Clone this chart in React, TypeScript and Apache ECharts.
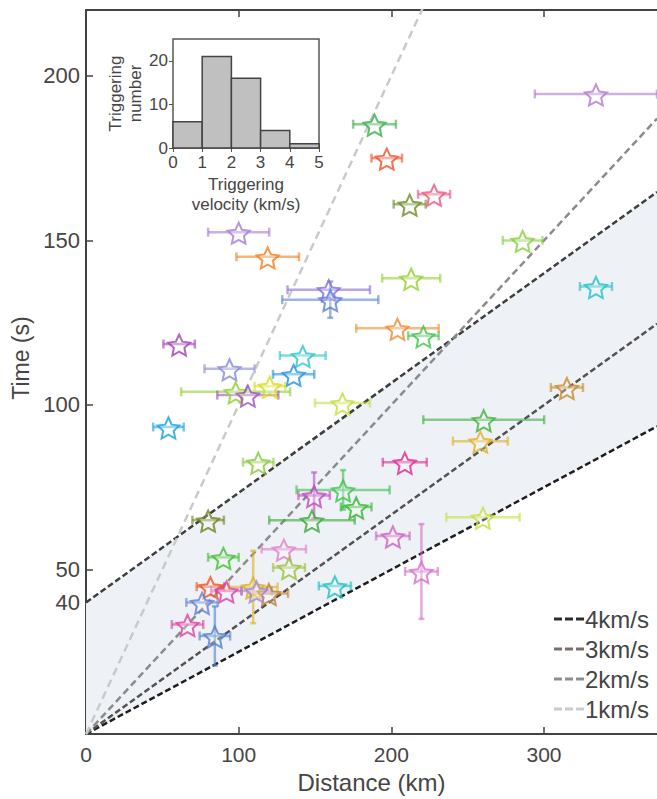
import React, { useEffect, useRef } from "react";
import * as echarts from "echarts";

// ---- main scatter data (distance km, time s, errors) ----
const distances = [334, 189, 197, 228, 212, 286, 213, 334, 100, 119, 159, 160, 204, 221, 61, 142, 94, 136, 120.4, 98, 106, 168, 54, 315, 260.5, 258.3, 208.8, 168.4, 177, 148, 149.4, 260, 201, 219.7, 163, 80, 112.8, 90, 129.6, 133, 81.5, 92, 109.5, 119.8, 111.7, 76, 66.5, 84.4];
const times = [194.5, 185.3, 175, 164, 161, 150, 138.5, 136, 152.5, 145, 135, 132, 123.3, 121, 118.5, 115, 111, 109.3, 105.7, 104, 103, 100.6, 93.3, 105.3, 95.5, 89, 82.6, 74.2, 69, 65, 72.5, 65.9, 60.2, 49.4, 45, 65, 82.6, 53.7, 56.2, 50.6, 44.8, 43.5, 44.7, 42.7, 43.5, 40, 33.3, 29.8];
const distErr = [40, 14, 10, 10.5, 10.5, 13, 19, 10.5, 20, 20.5, 27, 31.5, 27, 10, 10.3, 15, 16.4, 13.5, 10, 35.7, 20, 18, 10, 10.5, 39.6, 18, 14.4, 30.5, 10, 28, 10.3, 24, 11, 10.7, 10.5, 10.3, 10, 10, 14.5, 10.4, 9, 10, 16, 12.5, 10, 10.3, 10.3, 10];
const timeErr = [0, 0, 0, 0, 0, 0, 0, 0, 0, 0, 0, 5.5, 0, 0, 0, 0, 0, 0, 0, 0, 0, 0, 0, 0, 0, 0, 0, 6, 0, 0, 7, 0, 0, 14.4, 0, 0, 0, 0, 0, 0, 0, 0, 11, 0, 0, 0, 0, 9];

// ---- reference velocity lines ----
const velocities = [4, 3, 2, 1];
const velocityNames = ["4km/s", "3km/s", "2km/s", "1km/s"];
const bandIntercept = 40; // s, upper boundary t = 40 + d/3

// ---- axis ticks ----
const xTicks = [0, 100, 200, 300];
const yTicks = [40, 50, 100, 150, 200];

// ---- inset histogram ----
const binEdges = [0, 1, 2, 3, 4, 5];
const binCounts = [6, 21, 16, 4, 1];
const insetYTicks = [0, 10, 20];

// styles (kept apart from data)
const pointColors = ["#b07ad0", "#3aae4a", "#f0502a", "#f0507a", "#6e8a28", "#86d040", "#96d030", "#22c0c8", "#a67ad4", "#f07e20", "#8a6ad8", "#5a80d8", "#f08a30", "#40c048", "#a040b0", "#28c4c8", "#8888d8", "#2090e0", "#d8dc20", "#90d030", "#a050b8", "#c8dc40", "#1aa0e0", "#c88a28", "#40b040", "#e0b028", "#e02890", "#40c050", "#30b830", "#38a838", "#c048c0", "#c8e040", "#d060c0", "#d070c8", "#20c0c0", "#708020", "#88c840", "#40c030", "#e080c8", "#98c038", "#f05020", "#e040a8", "#e0b020", "#c08030", "#a088d0", "#6080d8", "#e040a0", "#5080d0"];
const lineColors = ["#1e1e1e", "#555050", "#8a8c8c", "#c8cbcb"];
const legendColors = ["#2a2c2c", "#7a6e6a", "#8a9090", "#c8cccc"];
const lineDashes = [[6, 3], [6, 3], [7, 4], [8, 5]];

const XMAX = 374;
const YMAX = 220;
const STAR = "path://M10,0L12.82,6.12L19.51,6.91L14.57,11.48L15.88,18.09L10,14.8L4.12,18.09L5.43,11.48L0.49,6.91L7.18,6.12Z";
const DASH_ICON = "path://M0,0H8V3H0Z M11,0H19V3H11Z M22,0H30V3H22Z";
const TXT = "#454545";
const FONT = "Liberation Sans";

function hexA(hex: string, a: number) {
  const n = parseInt(hex.slice(1), 16);
  return `rgba(${(n >> 16) & 255},${(n >> 8) & 255},${n & 255},${a})`;
}

export default function App() {
  const ref = useRef<HTMLDivElement>(null);
  useEffect(() => {
    if (!ref.current) return;
    const chart = echarts.init(ref.current, null, { renderer: "svg" });

    const lineSeries = velocities.map((v, i) => ({
      name: velocityNames[i],
      type: "line",
      xAxisIndex: 0,
      yAxisIndex: 0,
      symbol: "none",
      clip: true,
      z: 3,
      data: [[0, 0], [XMAX, XMAX / v]],
      lineStyle: { color: lineColors[i], width: 2.5, type: lineDashes[i] },
      itemStyle: { color: legendColors[i] },
    }));

    const option: any = {
      animation: false,
      textStyle: { fontFamily: FONT },
      grid: [
        { left: 86, top: 10, right: 0, bottom: 63 },
        { left: 173, top: 39, width: 146, height: 109, show: true, borderColor: "#555", borderWidth: 1.5, backgroundColor: "#fff", z: 20 },
      ],
      xAxis: [
        {
          type: "value", gridIndex: 0, min: 0, max: XMAX, interval: 100,
          axisLine: { show: true, lineStyle: { color: "#404444", width: 2 } },
          axisTick: { show: true, inside: true, length: 7, customValues: xTicks, lineStyle: { color: "#404444", width: 1.5 } },
          axisLabel: { fontSize: 21, color: TXT, margin: 10, customValues: xTicks },
          splitLine: { show: false },
          name: "Distance (km)", nameLocation: "middle", nameGap: 33,
          nameTextStyle: { fontSize: 24, color: TXT },
        },
        {
          type: "value", gridIndex: 0, position: "top", min: 0, max: XMAX, interval: 100,
          axisLine: { show: true, lineStyle: { color: "#404444", width: 2 } },
          axisTick: { show: true, inside: true, length: 7, customValues: xTicks, lineStyle: { color: "#404444", width: 1.5 } },
          axisLabel: { show: false }, splitLine: { show: false },
        },
        {
          type: "value", gridIndex: 1, min: 0, max: 5, interval: 1,
          axisLine: { show: false },
          axisTick: { show: true, inside: true, length: 4, lineStyle: { color: "#555" } },
          axisLabel: { fontSize: 17, color: TXT, margin: 6 },
          splitLine: { show: false },
          name: "Triggering\nvelocity (km/s)", nameLocation: "middle", nameGap: 26,
          nameTextStyle: { fontSize: 17, color: TXT, lineHeight: 20 },
        },
        {
          type: "value", gridIndex: 1, position: "top", min: 0, max: 5, interval: 1,
          axisLine: { show: false },
          axisTick: { show: true, inside: true, length: 4, lineStyle: { color: "#555" } },
          axisLabel: { show: false }, splitLine: { show: false },
        },
      ],
      yAxis: [
        {
          type: "value", gridIndex: 0, min: 0, max: YMAX, interval: 10,
          axisLine: { show: true, lineStyle: { color: "#404444", width: 2 } },
          axisTick: { show: true, inside: true, length: 7, customValues: yTicks, lineStyle: { color: "#404444", width: 1.5 } },
          axisLabel: { fontSize: 22, color: TXT, margin: 6, customValues: yTicks },
          splitLine: { show: false },
          name: "Time (s)", nameLocation: "middle", nameGap: 50,
          nameTextStyle: { fontSize: 23, color: TXT, padding: [0, 0, 0, 28] },
        },
        {
          type: "value", gridIndex: 1, min: 0, max: 25, interval: 10,
          axisLine: { show: false },
          axisTick: { show: true, inside: true, length: 4, customValues: insetYTicks, lineStyle: { color: "#555" } },
          axisLabel: { fontSize: 17, color: TXT, margin: 5, customValues: insetYTicks },
          splitLine: { show: false },
          name: "Triggering\nnumber", nameLocation: "middle", nameGap: 24,
          nameTextStyle: { fontSize: 17, color: TXT, lineHeight: 20 },
        },
        {
          type: "value", gridIndex: 1, position: "right", min: 0, max: 25, interval: 10,
          axisLine: { show: false },
          axisTick: { show: true, inside: true, length: 4, customValues: insetYTicks, lineStyle: { color: "#555" } },
          axisLabel: { show: false }, splitLine: { show: false },
        },
      ],
      legend: {
        data: velocityNames.map((n) => ({ name: n, icon: DASH_ICON })),
        orient: "vertical",
        right: 8,
        top: 607,
        itemWidth: 30,
        itemHeight: 3,
        itemGap: 6,
        padding: 0,
        textStyle: { fontSize: 24, color: TXT, fontFamily: FONT, padding: [0, 0, 0, -4] },
      },
      series: [
        {
          name: "band",
          type: "custom",
          xAxisIndex: 0, yAxisIndex: 0,
          z: 1, silent: true,
          data: [[0]],
          renderItem: (params: any, api: any) => {
            const pts = [
              api.coord([0, 0]),
              api.coord([XMAX, XMAX / 4]),
              api.coord([XMAX, bandIntercept + XMAX / 3]),
              api.coord([0, bandIntercept]),
            ];
            return { type: "polygon", shape: { points: pts }, style: { fill: "#eef1f5" } };
          },
        },
        {
          name: "upper",
          type: "line",
          xAxisIndex: 0, yAxisIndex: 0,
          symbol: "none", z: 3,
          data: [[0, bandIntercept], [XMAX, bandIntercept + XMAX / 3]],
          lineStyle: { color: "#3e3e3e", width: 2.5, type: [6, 3] },
        },
        ...lineSeries,
        {
          name: "errors",
          type: "custom",
          xAxisIndex: 0, yAxisIndex: 0,
          z: 4,
          clip: true,
          data: distances.map((d, i) => [d, times[i], distErr[i], timeErr[i]]),
          encode: { x: 0, y: 1 },
          renderItem: (params: any, api: any) => {
            const x = api.value(0), y = api.value(1), xe = api.value(2), ye = api.value(3);
            const c = hexA(pointColors[params.dataIndex], 0.6);
            const st = { stroke: c, lineWidth: 2.5 };
            const l = api.coord([x - xe, y]);
            const r = api.coord([x + xe, y]);
            const children: any[] = [
              { type: "line", shape: { x1: l[0], y1: l[1], x2: r[0], y2: r[1] }, style: st },
              { type: "line", shape: { x1: l[0], y1: l[1] - 4.5, x2: l[0], y2: l[1] + 4.5 }, style: st },
              { type: "line", shape: { x1: r[0], y1: r[1] - 4.5, x2: r[0], y2: r[1] + 4.5 }, style: st },
            ];
            if (ye > 0) {
              const t = api.coord([x, y + ye]);
              const b = api.coord([x, y - ye]);
              children.push(
                { type: "line", shape: { x1: t[0], y1: t[1], x2: b[0], y2: b[1] }, style: st },
                { type: "line", shape: { x1: t[0] - 3, y1: t[1], x2: t[0] + 3, y2: t[1] }, style: st },
                { type: "line", shape: { x1: b[0] - 3, y1: b[1], x2: b[0] + 3, y2: b[1] }, style: st },
              );
            }
            return { type: "group", children };
          },
        },
        {
          name: "events",
          type: "scatter",
          xAxisIndex: 0, yAxisIndex: 0,
          z: 5,
          symbol: STAR,
          symbolSize: [22, 21],
          symbolOffset: [0, 1],
          data: distances.map((d, i) => ({
            value: [d, times[i]],
            itemStyle: { color: "rgba(255,255,255,0.35)", borderColor: pointColors[i], borderWidth: 2 },
          })),
        },
        {
          name: "histogram",
          type: "custom",
          xAxisIndex: 2, yAxisIndex: 1,
          z: 21,
          data: binCounts.map((c, i) => [binEdges[i], binEdges[i + 1], c]),
          renderItem: (params: any, api: any) => {
            const p0 = api.coord([api.value(0), api.value(2)]);
            const p1 = api.coord([api.value(1), 0]);
            return {
              type: "rect",
              shape: { x: p0[0], y: p0[1], width: p1[0] - p0[0], height: p1[1] - p0[1] },
              style: { fill: "#c0c0c0", stroke: "#444", lineWidth: 1.5 },
            };
          },
        },
      ],
    };
    chart.setOption(option);
    return () => chart.dispose();
  }, []);
  return (
    <div
      ref={ref}
      style={{ position: "fixed", left: 0, top: 0, width: 657, height: 799, background: "#fff" }}
    />
  );
}
